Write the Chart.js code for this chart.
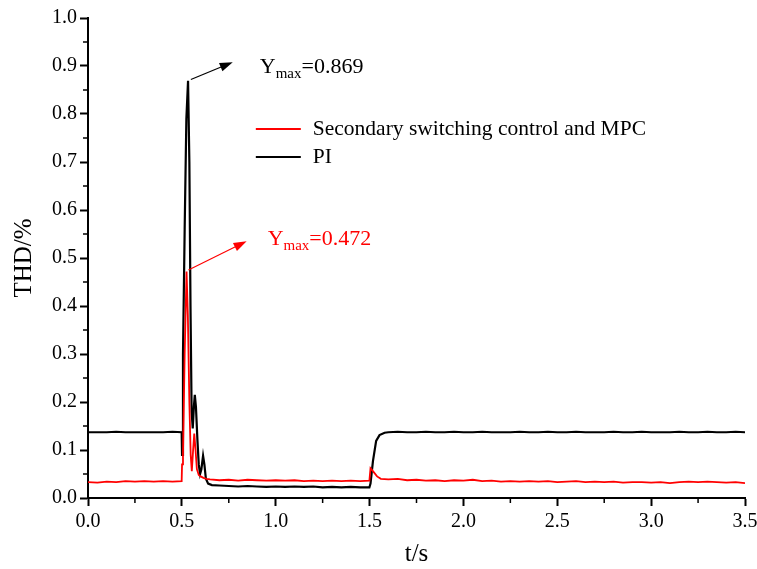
<!DOCTYPE html>
<html>
<head>
<meta charset="utf-8">
<script src="https://cdn.jsdelivr.net/npm/chart.js@4.4.0/dist/chart.umd.min.js"></script>
<style>
  html, body { margin: 0; padding: 0; background: #fff; }
  #wrap { width: 757px; height: 569px; }
</style>
</head>
<body>
<div id="wrap"><canvas id="chartCanvas" width="757" height="569"></canvas></div>
<script>
// PI controller THD (black)
const piTime = [0, 0.05, 0.1, 0.15, 0.2, 0.25, 0.3, 0.35, 0.4, 0.45, 0.499,
    0.501, 0.506, 0.515, 0.524, 0.533, 0.540, 0.546, 0.552, 0.558, 0.564, 0.569, 0.575, 0.583, 0.590, 0.597, 0.604, 0.613, 0.620, 0.628, 0.640, 0.66,
    0.7, 0.75, 0.8, 0.85, 0.9, 0.95, 1.0, 1.05, 1.1, 1.15, 1.2, 1.25, 1.3, 1.35, 1.4, 1.45, 1.499,
    1.505, 1.518, 1.535, 1.553, 1.58, 1.6, 1.65, 1.7, 1.75, 1.8, 1.85, 1.9, 1.95, 2.0, 2.05, 2.1, 2.15, 2.2, 2.25, 2.3, 2.35, 2.4, 2.45,
    2.5, 2.55, 2.6, 2.65, 2.7, 2.75, 2.8, 2.85, 2.9, 2.95, 3.0, 3.05, 3.1, 3.15, 3.2, 3.25, 3.3, 3.35, 3.4, 3.45, 3.5];
const piThd = [0.137, 0.137, 0.137, 0.138, 0.137, 0.137, 0.137, 0.137, 0.137, 0.138, 0.137,
    0.090, 0.300, 0.560, 0.790, 0.869, 0.700, 0.400, 0.180, 0.145, 0.190, 0.215, 0.190, 0.120, 0.070, 0.050, 0.060, 0.088, 0.070, 0.040, 0.030, 0.027,
    0.026, 0.025, 0.024, 0.025, 0.024, 0.023, 0.024, 0.023, 0.024, 0.023, 0.024, 0.022, 0.023, 0.022, 0.023, 0.022, 0.022,
    0.030, 0.077, 0.119, 0.131, 0.136, 0.137, 0.138, 0.137, 0.137, 0.138, 0.137, 0.137, 0.138, 0.137, 0.137, 0.138, 0.137, 0.137, 0.137, 0.138, 0.137, 0.137, 0.138,
    0.137, 0.137, 0.138, 0.137, 0.137, 0.137, 0.138, 0.137, 0.137, 0.138, 0.137, 0.137, 0.137, 0.138, 0.137, 0.137, 0.138, 0.137, 0.137, 0.138, 0.137];

// Secondary switching control and MPC THD (red)
const mpcTime = [0, 0.05, 0.1, 0.15, 0.2, 0.25, 0.3, 0.35, 0.4, 0.45, 0.499,
    0.501, 0.506, 0.515, 0.525, 0.532, 0.540, 0.547, 0.553, 0.560, 0.566, 0.573, 0.580, 0.590, 0.600, 0.615, 0.63, 0.65,
    0.7, 0.75, 0.8, 0.85, 0.9, 0.95, 1.0, 1.05, 1.1, 1.15, 1.2, 1.25, 1.3, 1.35, 1.4, 1.45, 1.499,
    1.505, 1.52, 1.54, 1.56, 1.6, 1.65, 1.7, 1.75, 1.8, 1.85, 1.9, 1.95, 2.0, 2.05, 2.1, 2.15, 2.2, 2.25, 2.3, 2.35, 2.4, 2.45,
    2.5, 2.55, 2.6, 2.65, 2.7, 2.75, 2.8, 2.85, 2.9, 2.95, 3.0, 3.05, 3.1, 3.15, 3.2, 3.25, 3.3, 3.35, 3.4, 3.45, 3.5];
const mpcThd = [0.033, 0.032, 0.034, 0.033, 0.035, 0.034, 0.035, 0.034, 0.035, 0.034, 0.035,
    0.070, 0.090, 0.300, 0.472, 0.380, 0.200, 0.090, 0.056, 0.100, 0.134, 0.100, 0.060, 0.048, 0.045, 0.042, 0.040, 0.039,
    0.037, 0.038, 0.036, 0.038, 0.037, 0.036, 0.037, 0.036, 0.037, 0.035, 0.036, 0.035, 0.036, 0.035, 0.036, 0.035, 0.036,
    0.062, 0.055, 0.045, 0.040, 0.039, 0.040, 0.037, 0.038, 0.036, 0.037, 0.035, 0.037, 0.036, 0.038, 0.035, 0.036, 0.034, 0.035, 0.034, 0.035, 0.034, 0.035,
    0.033, 0.034, 0.035, 0.033, 0.034, 0.033, 0.034, 0.032, 0.033, 0.033, 0.032, 0.033, 0.031, 0.033, 0.034, 0.033, 0.034, 0.033, 0.032, 0.033, 0.031];

const xTicks = [0, 0.5, 1.0, 1.5, 2.0, 2.5, 3.0, 3.5];
const yTicks = [0, 0.1, 0.2, 0.3, 0.4, 0.5, 0.6, 0.7, 0.8, 0.9, 1.0];

const serif = 'Liberation Serif';

function toPoints(ts, vs) {
    return ts.map((t, i) => ({ x: t, y: vs[i] }));
}

// minor ticks halfway between the labelled ones
const minorTicks = {
    id: 'minorTicks',
    afterDraw(chart) {
        const ctx = chart.ctx;
        const xs = chart.scales.x, ys = chart.scales.y;
        ctx.save();
        ctx.strokeStyle = '#000';
        ctx.lineWidth = 1.5;
        ctx.beginPath();
        for (let i = 0; i < xTicks.length - 1; i++) {
            const px = xs.getPixelForValue((xTicks[i] + xTicks[i + 1]) / 2);
            ctx.moveTo(px, ys.bottom);
            ctx.lineTo(px, ys.bottom + 5);
        }
        for (let i = 0; i < yTicks.length - 1; i++) {
            const py = ys.getPixelForValue((yTicks[i] + yTicks[i + 1]) / 2);
            ctx.moveTo(xs.left, py);
            ctx.lineTo(xs.left - 5, py);
        }
        ctx.stroke();
        ctx.restore();
    }
};

function arrow(ctx, x1, y1, x2, y2, color) {
    const a = Math.atan2(y2 - y1, x2 - x1);
    ctx.strokeStyle = color;
    ctx.fillStyle = color;
    ctx.lineWidth = 1.2;
    ctx.beginPath();
    ctx.moveTo(x1, y1);
    ctx.lineTo(x2 - 8 * Math.cos(a), y2 - 8 * Math.sin(a));
    ctx.stroke();
    ctx.beginPath();
    ctx.moveTo(x2, y2);
    ctx.lineTo(x2 - 13 * Math.cos(a) + 4.5 * Math.sin(a), y2 - 13 * Math.sin(a) - 4.5 * Math.cos(a));
    ctx.lineTo(x2 - 13 * Math.cos(a) - 4.5 * Math.sin(a), y2 - 13 * Math.sin(a) + 4.5 * Math.cos(a));
    ctx.closePath();
    ctx.fill();
}

function ymaxLabel(ctx, x, y, value, color) {
    ctx.fillStyle = color;
    ctx.textBaseline = 'alphabetic';
    ctx.textAlign = 'left';
    ctx.font = '22px "' + serif + '"';
    ctx.fillText('Y', x, y);
    let w = ctx.measureText('Y').width;
    ctx.font = '15px "' + serif + '"';
    ctx.fillText('max', x + w, y + 5);
    w += ctx.measureText('max').width;
    ctx.font = '22px "' + serif + '"';
    ctx.fillText('=' + value, x + w, y);
}

const notes = {
    id: 'notes',
    afterDraw(chart) {
        const ctx = chart.ctx;
        const xs = chart.scales.x, ys = chart.scales.y;
        ctx.save();
        // black peak
        arrow(ctx, xs.getPixelForValue(0.548), ys.getPixelForValue(0.872),
            xs.getPixelForValue(0.771), ys.getPixelForValue(0.908), '#000');
        ymaxLabel(ctx, xs.getPixelForValue(0.915), ys.getPixelForValue(0.885), '0.869', '#000');
        // red peak
        arrow(ctx, xs.getPixelForValue(0.535), ys.getPixelForValue(0.475),
            xs.getPixelForValue(0.845), ys.getPixelForValue(0.535), '#ff0000');
        ymaxLabel(ctx, xs.getPixelForValue(0.957), ys.getPixelForValue(0.527), '0.472', '#ff0000');

        // legend
        const lx = xs.getPixelForValue(0.894);
        let ly = 129;
        chart.data.datasets.forEach(ds => {
            ctx.strokeStyle = ds.borderColor;
            ctx.lineWidth = 2;
            ctx.beginPath();
            ctx.moveTo(lx, ly);
            ctx.lineTo(lx + 45, ly);
            ctx.stroke();
            ctx.fillStyle = '#000';
            ctx.font = '21.5px "' + serif + '"';
            ctx.textBaseline = 'middle';
            ctx.fillText(ds.label, lx + 57, ly);
            ly += 28;
        });
        ctx.restore();
    }
};

const ctx = document.getElementById('chartCanvas').getContext('2d');
new Chart(ctx, {
    type: 'line',
    data: {
        datasets: [
            {
                label: 'Secondary switching control and MPC',
                data: toPoints(mpcTime, mpcThd),
                borderColor: '#ff0000',
                borderWidth: 1.8,
                pointRadius: 0,
                tension: 0
            },
            {
                label: 'PI',
                data: toPoints(piTime, piThd),
                borderColor: '#000000',
                borderWidth: 2.2,
                pointRadius: 0,
                tension: 0
            }
        ]
    },
    options: {
        responsive: false,
        animation: false,
        layout: { padding: { left: 0, right: 0, top: 18, bottom: 0 } },
        plugins: {
            legend: { display: false },
            tooltip: { enabled: false }
        },
        scales: {
            x: {
                type: 'linear',
                min: 0,
                max: 3.5,
                afterBuildTicks: (scale) => { scale.ticks = xTicks.map(v => ({ value: v })); },
                afterFit: (scale) => { scale.height = 71; scale.paddingRight = 12; },
                ticks: {
                    color: '#000',
                    font: { family: serif, size: 20 },
                    padding: 4,
                    maxRotation: 0,
                    callback: (v) => Number(v).toFixed(1)
                },
                grid: { drawOnChartArea: false, tickLength: 8, tickWidth: 2, tickColor: '#000' },
                border: { color: '#000', width: 2 },
                title: { display: true, text: 't/s', color: '#000', font: { family: serif, size: 25 }, padding: { top: 0, bottom: 0 } }
            },
            y: {
                min: 0,
                max: 1.0,
                afterBuildTicks: (scale) => { scale.ticks = yTicks.map(v => ({ value: v })); },
                afterFit: (scale) => { scale.width = 88; },
                ticks: {
                    color: '#000',
                    font: { family: serif, size: 20 },
                    padding: 3,
                    callback: (v) => Number(v).toFixed(1)
                },
                grid: { drawOnChartArea: false, tickLength: 8, tickWidth: 2, tickColor: '#000' },
                border: { color: '#000', width: 2 },
                title: { display: true, text: 'THD/%', color: '#000', font: { family: serif, size: 25 }, padding: { top: 9, bottom: 0 } }
            }
        }
    },
    plugins: [minorTicks, notes]
});
</script>
</body>
</html>
